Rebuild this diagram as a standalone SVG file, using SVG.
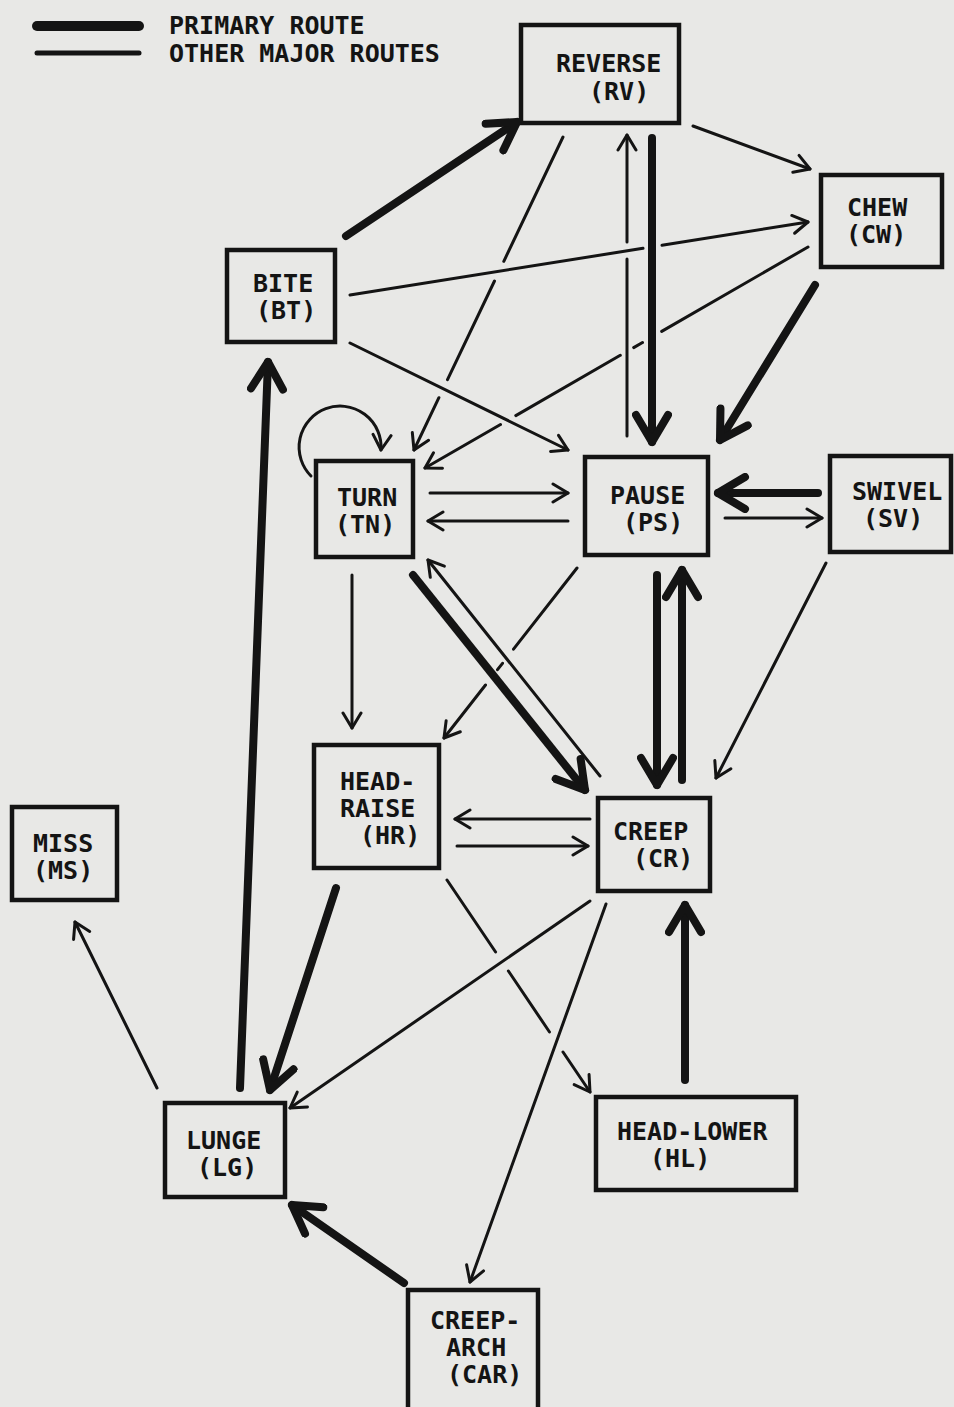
<svg xmlns="http://www.w3.org/2000/svg" width="954" height="1407" viewBox="0 0 954 1407">
<style>
.bg{fill:#e8e8e6}
.box{fill:none;stroke:#141414;stroke-width:4.5}
.t{font-family:"DejaVu Sans Mono","Liberation Mono",monospace;font-size:25px;font-weight:bold;fill:#141414}
.thin{fill:none;stroke:#141414;stroke-width:3;stroke-linecap:round;marker-end:url(#ah)}
.thick{fill:none;stroke:#141414;stroke-width:8;stroke-linecap:round;marker-end:url(#ahT)}
</style>
<defs>
<marker id="ah" markerUnits="userSpaceOnUse" viewBox="0 0 22 22" markerWidth="22" markerHeight="22" refX="18" refY="11" orient="auto"><path d="M3,2 L18,11 L3,20" fill="none" stroke="#141414" stroke-width="3" stroke-linecap="round" stroke-linejoin="round"/></marker>
<marker id="ahT" markerUnits="userSpaceOnUse" viewBox="0 0 40 40" markerWidth="40" markerHeight="40" refX="33" refY="20" orient="auto"><path d="M6,4 L33,20 L6,36" fill="none" stroke="#141414" stroke-width="8" stroke-linecap="round" stroke-linejoin="round"/></marker>
</defs>
<rect class="bg" x="0" y="0" width="954" height="1407"/>
<g id="legend">
<line x1="37" y1="26" x2="139" y2="26" stroke="#141414" stroke-width="10" stroke-linecap="round"/>
<line x1="37" y1="53" x2="139" y2="53" stroke="#141414" stroke-width="5" stroke-linecap="round"/>
<text class="t" x="169" y="34">PRIMARY ROUTE</text>
<text class="t" x="169" y="62">OTHER MAJOR ROUTES</text>
</g>
<g id="connectors">
<path class="thick" d="M346,236 L517,122"/>
<path class="thin" d="M693,126 L810,169"/>
<path class="thin" d="M350,295 L643,248.3 M662,245.3 L808,222"/>
<path class="thin" d="M563,137 L503.8,261.3 M494.5,281 L447.5,379.6 M438.9,397.7 L414,450"/>
<path class="thin" d="M808,247 L661.7,331.4 M642.5,342.5 L633.7,347.6 M620.3,355.3 L515.8,415.6 M500.5,424.5 L425,468"/>
<path class="thin" d="M350,343 L568,450"/>
<path class="thick" d="M652,138 L652,442"/>
<path class="thin" d="M627,436 L627,259 M627,242 L627,135"/>
<path class="thick" d="M815,285 L720,440"/>
<path class="thin" d="M311,476 A41,41 0 1 1 381,450"/>
<path class="thin" d="M430,493 L568,493"/>
<path class="thin" d="M568,521 L428,521"/>
<path class="thick" d="M818,493 L718,493"/>
<path class="thin" d="M725,518 L822,518"/>
<path class="thin" d="M826,563 L716,778"/>
<path class="thin" d="M577,568 L513.5,649.2 M502.5,663.3 L497.5,669.7 M485.5,685 L444,738"/>
<path class="thin" d="M352,575 L352,728"/>
<path class="thick" d="M413,575 L585,790"/>
<path class="thin" d="M600,776 L428,560"/>
<path class="thick" d="M657,575 L657,785"/>
<path class="thick" d="M682,780 L682,570"/>
<path class="thin" d="M590,819 L455,819"/>
<path class="thin" d="M457,846 L588,846"/>
<path class="thick" d="M336,888 L270,1090"/>
<path class="thin" d="M447,880 L495.6,952 M508.4,971 L549.5,1032 M563,1052 L590,1092"/>
<path class="thin" d="M590,901 L290,1108"/>
<path class="thin" d="M606,904 L470,1282"/>
<path class="thick" d="M685,1080 L685,905"/>
<path class="thick" d="M240,1088 L268,362"/>
<path class="thin" d="M157,1088 L75,922"/>
<path class="thick" d="M404,1283 L292,1205"/>
</g>
<g id="RV"><rect class="box" x="521" y="25" width="158" height="98"/><text class="t" x="556" y="72">REVERSE</text><text class="t" x="589" y="100">(RV)</text></g>
<g id="CW"><rect class="box" x="821" y="175" width="121" height="92"/><text class="t" x="847" y="216">CHEW</text><text class="t" x="846" y="243">(CW)</text></g>
<g id="BT"><rect class="box" x="227" y="250" width="108" height="92"/><text class="t" x="253" y="292">BITE</text><text class="t" x="256" y="319">(BT)</text></g>
<g id="TN"><rect class="box" x="316" y="461" width="97" height="96"/><text class="t" x="337" y="506">TURN</text><text class="t" x="335" y="533">(TN)</text></g>
<g id="PS"><rect class="box" x="585" y="457" width="123" height="98"/><text class="t" x="610" y="504">PAUSE</text><text class="t" x="623" y="531">(PS)</text></g>
<g id="SV"><rect class="box" x="830" y="456" width="121" height="96"/><text class="t" x="852" y="500">SWIVEL</text><text class="t" x="863" y="527">(SV)</text></g>
<g id="HR"><rect class="box" x="314" y="745" width="125" height="123"/><text class="t" x="340" y="790">HEAD-</text><text class="t" x="340" y="817">RAISE</text><text class="t" x="360" y="844">(HR)</text></g>
<g id="CR"><rect class="box" x="598" y="798" width="112" height="93"/><text class="t" x="613" y="840">CREEP</text><text class="t" x="633" y="867">(CR)</text></g>
<g id="MS"><rect class="box" x="12" y="807" width="105" height="93"/><text class="t" x="33" y="852">MISS</text><text class="t" x="33" y="879">(MS)</text></g>
<g id="LG"><rect class="box" x="165" y="1103" width="120" height="94"/><text class="t" x="186" y="1149">LUNGE</text><text class="t" x="197" y="1176">(LG)</text></g>
<g id="HL"><rect class="box" x="596" y="1097" width="200" height="93"/><text class="t" x="617" y="1140">HEAD-LOWER</text><text class="t" x="650" y="1167">(HL)</text></g>
<g id="CAR"><rect class="box" x="408" y="1290" width="130" height="130"/><text class="t" x="430" y="1329">CREEP-</text><text class="t" x="446" y="1356">ARCH</text><text class="t" x="447" y="1383">(CAR)</text></g>
</svg>
